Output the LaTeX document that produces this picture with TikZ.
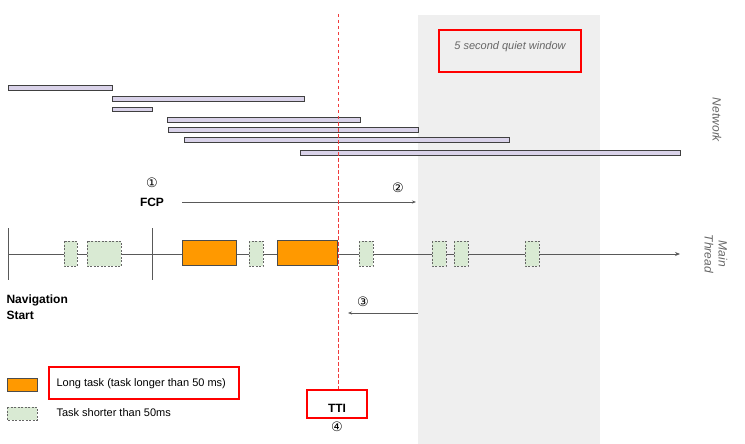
\documentclass[tikz,border=0pt]{standalone}
\usepackage{fontspec}
\setmainfont{Liberation Sans}
\newfontfamily\circfont{DejaVu Sans}
\usetikzlibrary{arrows.meta,positioning}
\definecolor{longorange}{HTML}{FF9900}
\definecolor{shortgreen}{HTML}{D9EAD3}
\definecolor{netlilac}{HTML}{D9D2E9}
\definecolor{quietgrey}{HTML}{EFEFEF}
\definecolor{labelgrey}{HTML}{666666}
\definecolor{ttired}{HTML}{F03C3C}
\definecolor{linegrey}{HTML}{595959}

\begin{document}
\begin{tikzpicture}[x=1pt, y=-1pt,
    netbar/.style={draw=black!75, fill=netlilac, line width=0.9pt},
    longtask/.style={draw=black!70, fill=longorange, line width=0.9pt},
    shorttask/.style={draw=black!60, fill=shortgreen, line width=0.9pt, dash pattern=on 2pt off 1.5pt},
    highlight/.style={draw=red, line width=2.8pt},
    lane/.style={font=\itshape\fontsize{12}{14}\selectfont, text=labelgrey, rotate=-90, align=center},
    milestone/.style={font=\bfseries\fontsize{12}{16}\selectfont},
    circnum/.style={font=\circfont\fontsize{13}{15}\selectfont},
    legendtext/.style={font=\fontsize{11}{13}\selectfont, anchor=west},
    pointer/.style={draw=linegrey, line width=0.7pt, -{Stealth[length=4pt, width=3pt]}}
]
    \useasboundingbox (0,0) rectangle (745,444);

    % Quiet window
    \fill[quietgrey] (418,15) rectangle (600,444);
    \node[font=\itshape\fontsize{11}{13}\selectfont, text=labelgrey] (quiet) at (510,47) {5 second quiet window};
    \draw[highlight] (439,30) rectangle (581,72);

    % Network requests
    \foreach \xa/\xb/\yy in {8/112/88, 112/304/99, 112/152/109.5, 167/360/120, 168/418/130, 184/509/140, 300/680/153} {
        \draw[netbar] (\xa,\yy-2.2) rectangle (\xb,\yy+2.2);
    }
    \node[lane] (netlabel) at (717,120) {Network};

    % Main thread
    \coordinate (navtick) at (8,254);
    \coordinate (threadend) at (680,254);
    \draw[draw=linegrey, line width=0.9pt, -{Stealth[length=5pt, width=4pt]}] (navtick) -- (threadend);
    \draw[draw=linegrey, line width=0.9pt] (8,228) -- (8,280);
    \draw[draw=linegrey, line width=0.9pt] (152,228) -- (152,280);
    \foreach \xa/\xb in {64/77, 87/121, 249/263, 359/373, 432/446, 454/468, 525/539} {
        \draw[shorttask] (\xa,241) rectangle (\xb,266);
    }
    \foreach \xa/\xb in {182/236, 277/337} {
        \draw[longtask] (\xa,240) rectangle (\xb,265);
    }
    \node[lane] (mainlabel) at (716,254) {Main\\Thread};

    % Milestones
    \node[milestone, align=left, anchor=west] (navstart) at (3,307) {Navigation\\Start};
    \node[circnum] (one) at (152,183) {①};
    \node[milestone] (fcp) at (152,202) {FCP};
    \coordinate (fcpstart) at (182,202);
    \coordinate (fcpend) at (416,202);
    \draw[pointer] (fcpstart) -- (fcpend);
    \node[circnum] (two) at (398,188) {②};
    \node[circnum] (three) at (363,302) {③};
    \coordinate (quietstart) at (418,313);
    \coordinate (ttiback) at (348,313);
    \draw[pointer] (quietstart) -- (ttiback);

    % TTI
    \node[highlight, minimum width=60pt, minimum height=28pt, inner sep=0pt] (ttibox) at (337,404) {};
    \node[milestone] (tti) at (337,408) {TTI};
    \node[circnum] (four) at (337,427) {④};
    \coordinate (ttitop) at (338.5,14);
    \draw[draw=ttired, line width=1pt, dash pattern=on 3.5pt off 2.5pt] (ttitop) -- (ttibox.north -| ttitop);

    % Legend
    \draw[longtask] (7,378) rectangle (37,391);
    \node[legendtext] (longlabel) at (53,384) {Long task (task longer than 50 ms)};
    \draw[highlight] (49,367) rectangle (239,399);
    \draw[shorttask] (7,407) rectangle (37,420);
    \node[legendtext] (shortlabel) at (53,413) {Task shorter than 50ms};
\end{tikzpicture}
\end{document}
